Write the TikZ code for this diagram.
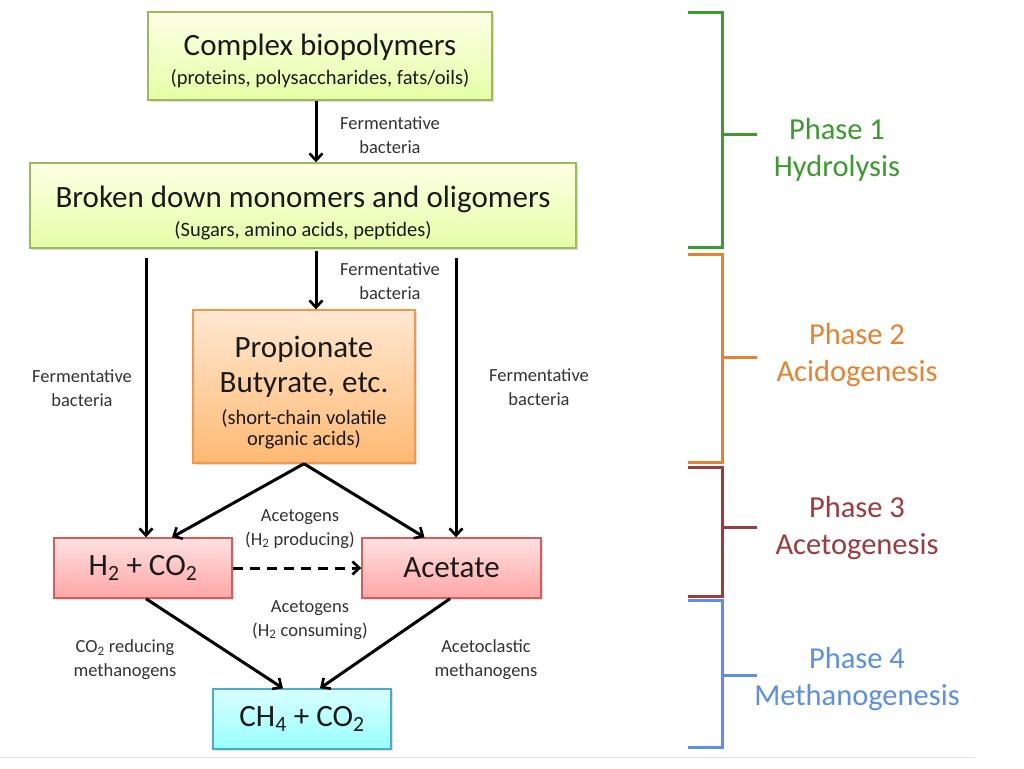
\documentclass[tikz,border=0pt]{standalone}
\usepackage{fontspec}
\setmainfont{Carlito}
\usetikzlibrary{arrows.meta,shadows,calc}
\definecolor{gbord}{HTML}{9BBB59}
\definecolor{obord}{HTML}{F79646}
\definecolor{rbord}{HTML}{D0605E}
\definecolor{cbord}{HTML}{4BACC6}
\definecolor{pgreen}{HTML}{3C9A2E}
\definecolor{porange}{HTML}{E8822E}
\definecolor{pred}{HTML}{9E3B3E}
\definecolor{pblue}{HTML}{5B8FE8}
\definecolor{txt}{HTML}{1A1A1A}
\newcommand{\bigtxt}{\fontsize{31}{36}\selectfont}
\newcommand{\subtxt}{\fontsize{20.5}{24}\selectfont}
\begin{document}
\begin{tikzpicture}[x=1pt,y=-1pt,
  box/.style={rectangle,line width=1.4pt,align=center,inner sep=0pt,text=txt,font=\subtxt,
    drop shadow={shadow xshift=2pt,shadow yshift=-2pt,opacity=0.25}},
  boxtext/.style={align=center,inner sep=0pt,text=txt,font=\subtxt},
  gbox/.style={box,draw=gbord,top color=green!6!yellow!10,bottom color=green!30!yellow!35!white},
  obox/.style={box,draw=obord,top color=orange!18,bottom color=orange!55},
  rbox/.style={box,draw=rbord,top color=red!12,bottom color=red!35},
  cbox/.style={box,draw=cbord,top color=cyan!15,bottom color=cyan!40},
  arr/.style={line width=3pt,-{Straight Barb[length=7pt,width=13pt,line width=2.6pt]}},
  lab/.style={font=\fontsize{18.5}{24}\selectfont,text=black!80,align=center,inner sep=0pt},
  phase/.style={font=\fontsize{30.5}{37}\selectfont,align=center,inner sep=0pt},
  brk/.style={line width=3pt}]
\useasboundingbox (0,0) rectangle (1024,768);
\fill[white] (0,0) rectangle (1024,768);
% boxes
\node[gbox,minimum width=344pt,minimum height=88pt] (b1) at (320,56) {};
\node[boxtext] (b1t) at ($(b1.center)+(0,5)$)
  {{\bigtxt Complex biopolymers}\\[5pt]{(proteins, polysaccharides, fats/oils)}};
\node[gbox,minimum width=546pt,minimum height=85pt] (b2) at (303,205.5) {};
\node[boxtext] (b2t) at ($(b2.center)+(0,7)$)
  {{\bigtxt Broken down monomers and oligomers}\\[5pt]{(Sugars, amino acids, peptides)}};
\node[obox,minimum width=222pt,minimum height=153pt] (b3) at (304,386.5) {};
\node[boxtext] (b3t) at ($(b3.center)+(0,6)$)
  {{\bigtxt Propionate}\\[9pt]{\bigtxt Butyrate, etc.}\\[8pt]{(short-chain volatile}\\[-3pt]{organic acids)}};
\node[rbox,minimum width=178pt,minimum height=60pt,font=\bigtxt] (h2) at (143,568)
  {H\textsubscript{2} + CO\textsubscript{2}};
\node[rbox,minimum width=179pt,minimum height=60pt,font=\bigtxt] (ac) at (451.5,568)
  {Acetate};
\node[cbox,minimum width=178pt,minimum height=60pt,font=\bigtxt] (ch) at (302,719)
  {CH\textsubscript{4} + CO\textsubscript{2}};
% arrows
\coordinate (x1) at ($(b1.south)+(-4,0)$);
\draw[arr] (x1) -- (x1 |- b2.north);
\coordinate (x2) at ($(b2.south)+(13,2)$);
\draw[arr] (x2) -- (x2 |- b3.north);
\coordinate (xl) at ($(h2.north)+(3,0)$);
\draw[arr] (xl |- b2.south) ++(0,9) -- (xl);
\coordinate (xr) at ($(ac.north)+(4.5,0)$);
\draw[arr] (xr |- b2.south) ++(0,9) -- (xr);
\draw[arr] (b3.south) -- ($(h2.north)+(29,0)$);
\draw[arr] (b3.south) -- ($(ac.north)+(-27,0)$);
\draw[arr,dash pattern=on 10pt off 7pt] (h2.east) -- (ac.west);
\draw[arr] ($(h2.south)+(3,0)$) -- ($(ch.north)+(-19,0)$);
\draw[arr] ($(ac.south)+(-1.5,0)$) -- ($(ch.north)+(18,0)$);
% labels
\node[lab] (l1) at (390,135) {Fermentative\\bacteria};
\node[lab] (l2) at (390,281) {Fermentative\\bacteria};
\node[lab] (l3) at (82,388) {Fermentative\\bacteria};
\node[lab] (l4) at (539,387) {Fermentative\\bacteria};
\node[lab] (l5) at (300,529) {Acetogens\\(H\textsubscript{2} producing)};
\node[lab] (l6) at (310,620) {Acetogens\\(H\textsubscript{2} consuming)};
\node[lab] (l7) at (125,660) {CO\textsubscript{2} reducing\\methanogens};
\node[lab] (l8) at (486,660) {Acetoclastic\\methanogens};
% brackets
\draw[brk,pgreen] (688,13) -- (722,13) -- (722,247) -- (688,247);
\draw[brk,pgreen] (722,134) -- (757,134);
\node[phase,text=pgreen] (p1) at (837,150) {Phase 1\\Hydrolysis};
\draw[brk,porange] (688,254) -- (722,254) -- (722,462) -- (688,462);
\draw[brk,porange] (722,357) -- (757,357);
\node[phase,text=porange] (p2) at (857,355) {Phase 2\\Acidogenesis};
\draw[brk,pred] (688,467) -- (722,467) -- (722,596) -- (688,596);
\draw[brk,pred] (722,527) -- (757,527);
\node[phase,text=pred] (p3) at (857,528) {Phase 3\\Acetogenesis};
\draw[brk,pblue] (688,600) -- (722,600) -- (722,747) -- (688,747);
\draw[brk,pblue] (722,675) -- (757,675);
\node[phase,text=pblue] (p4) at (857,679) {Phase 4\\Methanogenesis};
% bottom rule
\draw[black!12,line width=1pt] (0,757) -- (975,757);
\end{tikzpicture}
\end{document}
